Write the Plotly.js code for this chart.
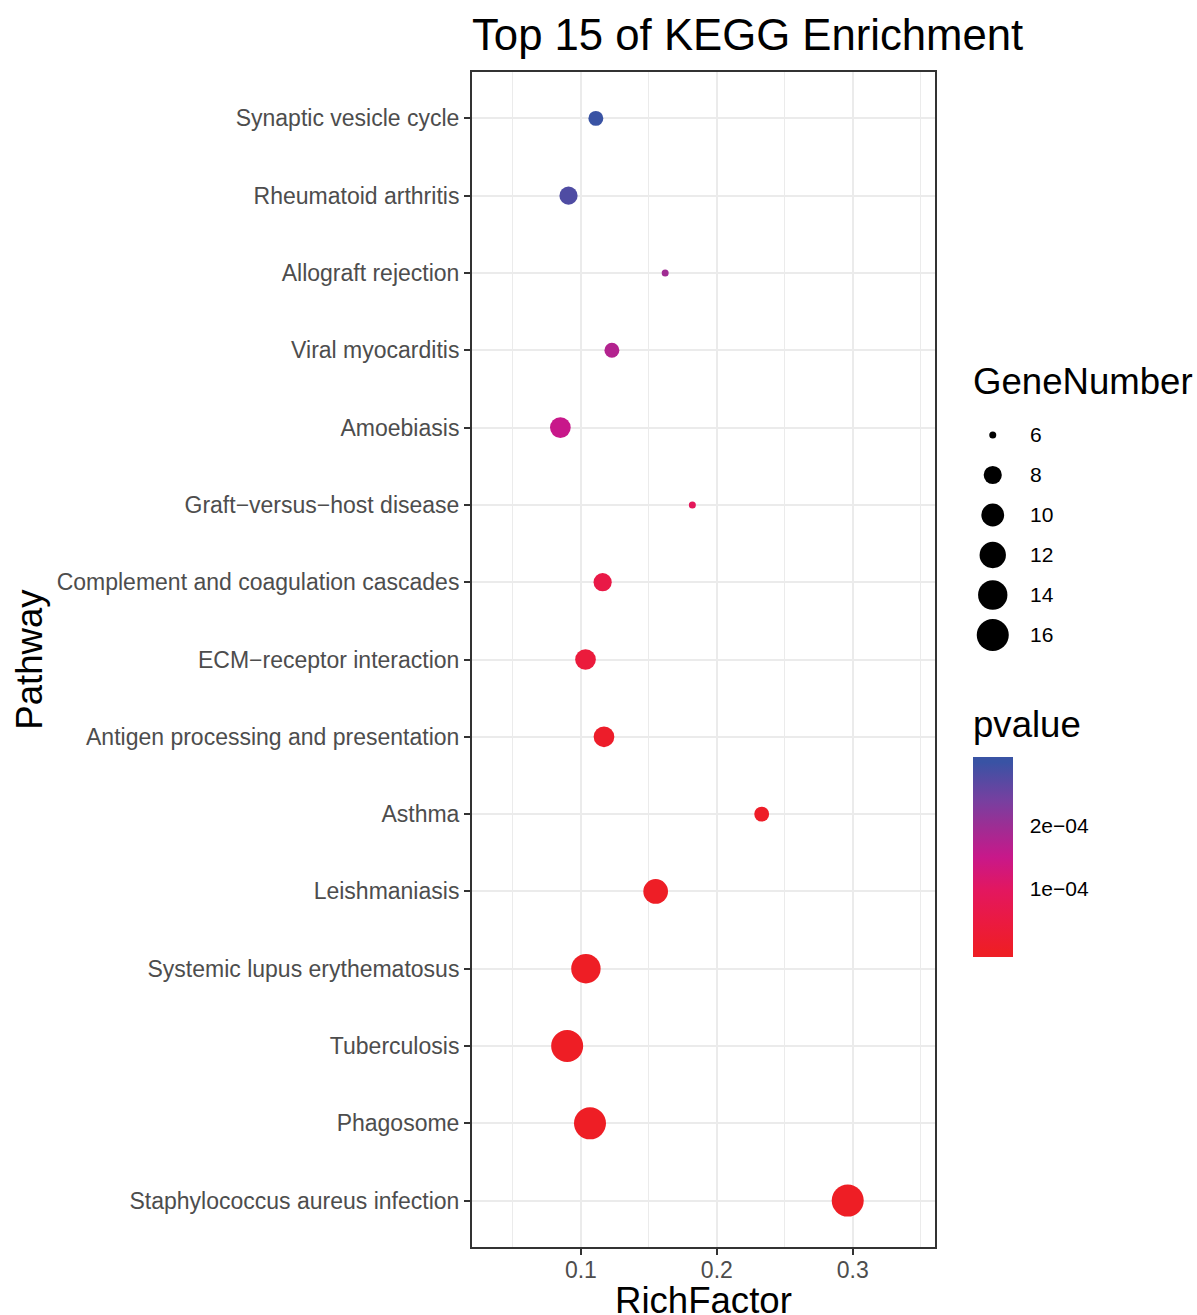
<!DOCTYPE html>
<html>
<head>
<meta charset="utf-8">
<script src="https://cdn.plot.ly/plotly-3.0.1.min.js"></script>
<style>html,body{margin:0;padding:0;background:#fff;}#chart{width:1197px;height:1315px;}</style>
</head>
<body>
<div id="chart"></div>
<script>
// ---- data (top of chart to bottom) ----
const pathways = [
  "Synaptic vesicle cycle",
  "Rheumatoid arthritis",
  "Allograft rejection",
  "Viral myocarditis",
  "Amoebiasis",
  "Graft\u2212versus\u2212host disease",
  "Complement and coagulation cascades",
  "ECM\u2212receptor interaction",
  "Antigen processing and presentation",
  "Asthma",
  "Leishmaniasis",
  "Systemic lupus erythematosus",
  "Tuberculosis",
  "Phagosome",
  "Staphylococcus aureus infection"
];
const richFactor = [0.111, 0.0909, 0.162, 0.1228, 0.0849, 0.182, 0.116, 0.1034, 0.117, 0.233, 0.155, 0.1037, 0.0899, 0.1067, 0.2963];
const geneNumber = [7, 8, 6, 7, 9, 6, 8, 9, 9, 7, 11, 14, 16, 16, 16];
const pValue = [3.0e-4, 2.78e-4, 1.95e-4, 1.74e-4, 1.5e-4, 9.0e-5, 5.8e-5, 3.9e-5, 9e-6, 6e-6, 2e-6, 5e-7, 1e-7, 4e-8, 1e-9];

const sizeBreaks = [6, 8, 10, 12, 14, 16];
const sizeBreakLabels = ["6", "8", "10", "12", "14", "16"];
const colorTickVals = [1e-4, 2e-4];
const colorTickText = ["1e\u221204", "2e\u221204"];
const xTickVals = [0.1, 0.2, 0.3];

// ---- styles ----
const FONT = '"Liberation Sans", Arial, Helvetica, sans-serif';
const gMin = Math.min(...geneNumber), gMax = Math.max(...geneNumber);
function sizeFor(n) { return 7 + 25 * Math.sqrt((n - gMin) / (gMax - gMin)); }

// ggplot colourbar: bar spans limits, but bins are centred (nbin = 20),
// so the full scale sits between 2.5% and 97.5% of the bar
const pMin = Math.min(...pValue), pMax = Math.max(...pValue);
const half = 0.5 / 20;
const pad = (pMax - pMin) * half / (1 - 2 * half);
const baseStops = [
  [0, '#EE1E25'], [0.15, '#EB1A3F'], [0.325, '#E3175F'], [0.5, '#C8188A'],
  [0.65, '#A02C93'], [0.8, '#7640A0'], [1, '#3953A4']
];
const colorscale = [[0, baseStops[0][1]]].concat(
  baseStops.map(s => [half + (1 - 2 * half) * s[0], s[1]]),
  [[1, baseStops[baseStops.length - 1][1]]]
);

const W = 1197, H = 1315;
const mL = 472, mR = 0, mT = 72, mB = 68;
const pw = W - mL - mR, ph = H - mT - mB;
const px = X => (X - mL) / pw;
const py = Y => 1 - (Y - mT) / ph;

const main = {
  type: 'scatter', mode: 'markers',
  x: richFactor, y: pathways,
  xaxis: 'x', yaxis: 'y',
  marker: {
    size: geneNumber.map(sizeFor),
    color: pValue,
    colorscale: colorscale,
    cmin: pMin - pad, cmax: pMax + pad,
    line: { width: 0 },
    opacity: 1,
    showscale: true,
    colorbar: {
      x: px(973.3), xanchor: 'left', xpad: 0,
      y: py(857.3), yanchor: 'middle', ypad: 0,
      len: 200, lenmode: 'pixels', thickness: 40, thicknessmode: 'pixels',
      outlinewidth: 0,
      tickvals: colorTickVals, ticktext: colorTickText,
      ticks: 'outside', ticklen: 13, tickcolor: 'rgba(0,0,0,0)',
      tickfont: { family: FONT, size: 21, color: '#000' }
    }
  },
  showlegend: false, hoverinfo: 'x+y'
};

const sizeLegend = {
  type: 'scatter', mode: 'markers',
  x: sizeBreaks.map(() => 0.5), y: sizeBreakLabels,
  xaxis: 'x2', yaxis: 'y2',
  marker: { size: sizeBreaks.map(sizeFor), color: '#000000', opacity: 1, line: { width: 0 } },
  showlegend: false, hoverinfo: 'skip'
};

const layout = {
  width: W, height: H,
  margin: { l: mL, r: mR, t: mT, b: mB, pad: 0 },
  paper_bgcolor: '#fff', plot_bgcolor: '#fff',
  font: { family: FONT },
  title: {
    text: 'Top 15 of KEGG Enrichment',
    font: { family: FONT, size: 43.7, color: '#000' },
    xref: 'paper', x: 0, xanchor: 'left',
    yref: 'container', y: 1 - 35 / H, yanchor: 'middle'
  },
  xaxis: {
    domain: [0, px(935)],
    range: [0.0199, 0.3605],
    tickvals: xTickVals,
    showgrid: true, gridcolor: '#EBEBEB', gridwidth: 2,
    minor: { dtick: 0.05, tick0: 0, showgrid: true, gridcolor: '#EBEBEB', gridwidth: 1, ticks: '' },
    zeroline: false,
    showline: true, mirror: true, linecolor: '#333333', linewidth: 2,
    ticks: 'outside', ticklen: 6, tickwidth: 2, tickcolor: '#333333',
    ticklabelstandoff: -5,
    tickfont: { family: FONT, size: 23, color: '#4D4D4D' },
    automargin: false, fixedrange: true
  },
  yaxis: {
    domain: [0, 1],
    type: 'category', categoryorder: 'array', categoryarray: pathways,
    range: [pathways.length - 0.4, -0.6],
    showgrid: true, gridcolor: '#EBEBEB', gridwidth: 2,
    zeroline: false,
    showline: true, mirror: true, linecolor: '#333333', linewidth: 2,
    ticks: 'outside', ticklen: 6, tickwidth: 2, tickcolor: '#333333',
    tickfont: { family: FONT, size: 23, color: '#4D4D4D' },
    title: { text: 'Pathway', font: { family: FONT, size: 36.6, color: '#000' }, standoff: 3 },
    automargin: false, fixedrange: true
  },
  xaxis2: {
    domain: [px(972.5), px(1013)], range: [0, 1], anchor: 'y2',
    visible: false, fixedrange: true
  },
  yaxis2: {
    domain: [py(655), py(415)], anchor: 'x2', side: 'right',
    type: 'category', categoryorder: 'array', categoryarray: sizeBreakLabels,
    range: [sizeBreaks.length - 0.5, -0.5],
    showgrid: false, zeroline: false, showline: false, ticks: '',
    ticklabelstandoff: 16,
    tickfont: { family: FONT, size: 21, color: '#000' },
    automargin: false, fixedrange: true
  },
  annotations: [
    { text: 'RichFactor', xref: 'paper', yref: 'paper', x: px(703.5), y: py(1300),
      xanchor: 'center', yanchor: 'middle', showarrow: false, borderpad: 0,
      font: { family: FONT, size: 36.6, color: '#000' } },
    { text: 'GeneNumber', xref: 'paper', yref: 'paper', x: px(971), y: py(382),
      xanchor: 'left', yanchor: 'middle', showarrow: false,
      font: { family: FONT, size: 36.6, color: '#000' } },
    { text: 'pvalue', xref: 'paper', yref: 'paper', x: px(971), y: py(724),
      xanchor: 'left', yanchor: 'middle', showarrow: false,
      font: { family: FONT, size: 36.6, color: '#000' } }
  ]
};

Plotly.newPlot('chart', [main, sizeLegend], layout, { displayModeBar: false, staticPlot: true });
</script>
</body>
</html>
